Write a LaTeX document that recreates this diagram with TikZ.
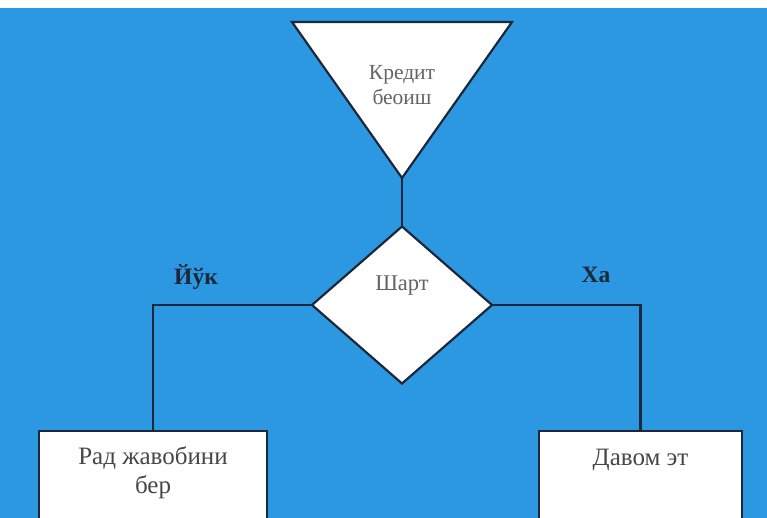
\documentclass[tikz,border=0pt]{standalone}
\usepackage{fontspec}
\setmainfont{Liberation Serif}
\usetikzlibrary{shapes.geometric}
\definecolor{bgblue}{RGB}{44,152,226}
\definecolor{edge}{RGB}{28,40,58}
\definecolor{txtgray}{RGB}{100,100,100}
\definecolor{boxtxt}{RGB}{70,70,70}
\tikzset{
  outline/.style={draw=edge, line width=2.2pt, fill=white},
  conn/.style={draw=edge, line width=2.2pt},
  shapetxt/.style={font=\fontsize{21.5}{25}\selectfont, text=txtgray, align=center, inner sep=0pt},
  boxlabel/.style={font=\fontsize{25}{29}\selectfont, text=boxtxt, align=center, inner sep=0pt},
  branch/.style={font=\bfseries\fontsize{23.5}{26}\selectfont, text=edge, inner sep=0pt},
  boxnode/.style={outline, rectangle, inner sep=0pt, outer sep=0pt, anchor=north}
}
\begin{document}
\begin{tikzpicture}[x=1pt,y=-1pt]
\useasboundingbox (0,0) rectangle (767,518);
\clip (0,0) rectangle (767,518);
\fill[white] (0,0) rectangle (767,518);
\fill[bgblue] (0,8) rectangle (767,518);
% triangle
\path[outline, line join=miter] (292,22) -- (512,22) -- (402,178) -- cycle;
\coordinate (apex) at (402,178);
\node[shapetxt] (cred) at (402,85) {Кредит\\беоиш};
% diamond
\node[diamond, outline, minimum width=180pt, minimum height=157pt, inner sep=0pt, outer sep=0pt] (shart) at (402,305) {};
\node[shapetxt, font=\fontsize{22.5}{25}\selectfont] (shartlbl) at (402,286) {Шарт};
% boxes
\node[boxnode, minimum width=228pt, minimum height=120pt] (rad) at (153,431) {};
\node[boxnode, minimum width=203pt, minimum height=120pt] (davom) at (640.5,431) {};
\node[boxlabel] (radlbl) at (153,473) {Рад жавобини\\бер};
\node[boxlabel] (davomlbl) at (640.5,460) {Давом эт};
% connectors
\draw[conn] (apex) -- (shart.north);
\draw[conn] (shart.west) -| (rad.north);
\draw[conn] (shart.east) -| (davom.north);
% branch labels
\node[branch] (yuk) at (196,277) {Йўк};
\node[branch] (ha) at (596,275) {Ха};
\end{tikzpicture}
\end{document}
